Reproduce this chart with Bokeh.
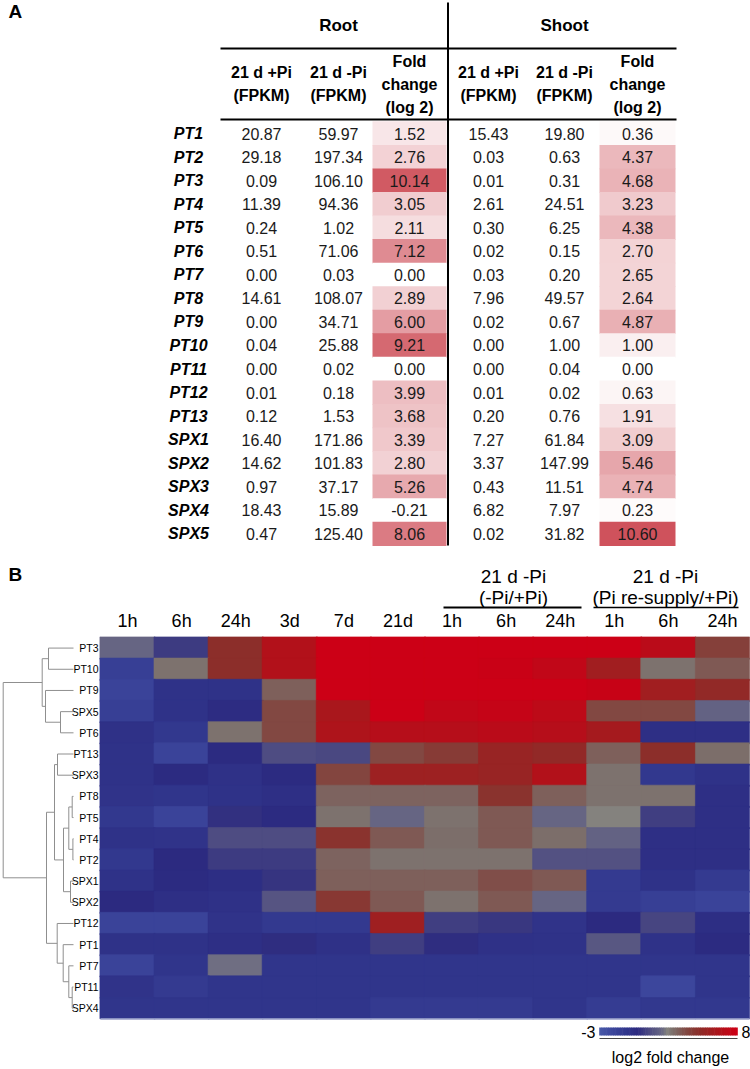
import numpy as np
from bokeh.plotting import figure
from bokeh.models import Range1d
from bokeh.core.properties import value
from bokeh.embed import file_html
from bokeh.resources import INLINE

# ---------------- Panel A data ----------------
genes_a = ["PT1", "PT2", "PT3", "PT4", "PT5", "PT6", "PT7", "PT8", "PT9", "PT10",
           "PT11", "PT12", "PT13", "SPX1", "SPX2", "SPX3", "SPX4", "SPX5"]
root_plus = [20.87, 29.18, 0.09, 11.39, 0.24, 0.51, 0.00, 14.61, 0.00, 0.04,
             0.00, 0.01, 0.12, 16.40, 14.62, 0.97, 18.43, 0.47]
root_minus = [59.97, 197.34, 106.10, 94.36, 1.02, 71.06, 0.03, 108.07, 34.71, 25.88,
              0.02, 0.18, 1.53, 171.86, 101.83, 37.17, 15.89, 125.40]
root_fc = [1.52, 2.76, 10.14, 3.05, 2.11, 7.12, 0.00, 2.89, 6.00, 9.21,
           0.00, 3.99, 3.68, 3.39, 2.80, 5.26, -0.21, 8.06]
shoot_plus = [15.43, 0.03, 0.01, 2.61, 0.30, 0.02, 0.03, 7.96, 0.02, 0.00,
              0.00, 0.01, 0.20, 7.27, 3.37, 0.43, 6.82, 0.02]
shoot_minus = [19.80, 0.63, 0.31, 24.51, 6.25, 0.15, 0.20, 49.57, 0.67, 1.00,
               0.04, 0.02, 0.76, 61.84, 147.99, 11.51, 7.97, 31.82]
shoot_fc = [0.36, 4.37, 4.68, 3.23, 4.38, 2.70, 2.65, 2.64, 4.87, 1.00,
            0.00, 0.63, 1.91, 3.09, 5.46, 4.74, 0.23, 10.60]

# ---------------- Panel B data ----------------
genes_b = ["PT3", "PT10", "PT9", "SPX5", "PT6", "PT13", "SPX3", "PT8", "PT5", "PT4",
           "PT2", "SPX1", "SPX2", "PT12", "PT1", "PT7", "PT11", "SPX4"]
time_labels = ["1h", "6h", "24h", "3d", "7d", "21d", "1h", "6h", "24h", "1h", "6h", "24h"]
heat = [
    [1.9, 0.5, 5.0, 6.8, 8.0, 8.0, 8.0, 8.0, 8.0, 8.0, 7.2, 4.3],    # PT3
    [-1.5, 2.8, 5.0, 6.8, 8.0, 8.0, 8.0, 7.9, 7.5, 6.0, 2.8, 3.5],   # PT10
    [-1.8, -0.6, -0.6, 3.3, 8.0, 8.0, 8.0, 8.0, 8.0, 7.8, 6.0, 5.3], # PT9
    [-1.5, -0.6, -0.2, 4.0, 6.4, 8.0, 7.5, 7.7, 7.3, 4.0, 4.0, 1.8], # SPX5
    [-0.5, -1.0, 2.8, 4.0, 6.6, 7.0, 7.0, 7.2, 7.0, 6.2, -0.4, -0.4],# PT6
    [-0.6, -1.8, -0.1, 1.0, 0.9, 4.0, 4.5, 5.6, 5.3, 3.3, 5.0, 2.9], # PT13
    [-0.6, -0.1, -0.5, -0.1, 4.1, 5.8, 5.8, 5.6, 6.8, 2.8, -1.0, -0.6], # SPX3
    [-0.7, -0.8, -0.6, -0.4, 3.2, 3.2, 3.2, 4.8, 3.3, 2.8, 2.8, -0.4],  # PT8
    [-1.0, -1.8, 0.2, -0.1, 2.8, 1.9, 2.8, 3.5, 1.9, 2.4, 0.6, -0.4],   # PT5
    [-0.6, -0.7, 1.0, 1.0, 4.8, 3.5, 2.9, 3.5, 2.9, 1.8, -0.4, -0.4],   # PT4
    [-1.0, 0.0, 0.5, 0.5, 3.2, 2.8, 2.8, 2.8, 1.2, 1.2, -0.4, -0.4],    # PT2
    [-0.6, -0.1, -0.3, 0.3, 3.3, 3.3, 3.3, 3.8, 3.5, -1.2, -0.6, -1.2], # SPX1
    [0.0, -0.4, -0.5, 1.3, 4.6, 3.5, 2.8, 3.5, 1.9, -1.2, -1.5, -1.8],  # SPX2
    [-1.8, -1.8, -0.7, -1.1, -1.1, 5.9, 0.6, 0.4, -0.7, 0.0, 0.8, -0.3],# PT12
    [-0.6, -0.6, -0.4, 0.1, -0.5, 0.6, 0.1, -0.5, -0.6, 1.4, -0.6, -0.1],# PT1
    [-1.8, -0.8, 2.1, -0.8, -0.8, -0.8, -0.8, -0.8, -0.8, -0.8, -0.8, -0.8], # PT7
    [-0.7, -1.2, -0.8, -0.8, -0.8, -0.8, -0.8, -0.8, -0.8, -0.8, -2.0, -0.8], # PT11
    [-0.8, -0.8, -0.8, -0.8, -0.8, -1.2, -1.2, -1.2, -0.8, -1.3, -1.0, -1.0], # SPX4
]
# dendrogram: (merge distance, left, right)
tree = (70.3,
        (31.3, (25.0, "PT3", "PT10"), (28.0, "PT9", (13.0, "SPX5", "PT6"))),
        (27.0,
         (19.0, (16.0, "PT13", "SPX3"),
          (10.0, (4.7, (1.3, "PT8", "PT5"), (0.6, "PT4", "PT2")), (3.0, "SPX1", "SPX2"))),
         (16.3, "PT12", (10.3, "PT1", (4.7, "PT7", (1.3, "PT11", "SPX4"))))))
cmap_vals = [-3, -2, -1, 0, 1, 2, 2.4, 2.9, 4, 5, 6.5, 8]
cmap_r = [72, 60, 50, 44, 78, 105, 132, 124, 130, 140, 172, 204]
cmap_g = [88, 70, 56, 42, 76, 104, 130, 110, 72, 46, 22, 0]
cmap_b = [168, 156, 142, 128, 130, 132, 126, 106, 66, 42, 28, 22]


def heat_color(v):
    r = np.interp(v, cmap_vals, cmap_r)
    g = np.interp(v, cmap_vals, cmap_g)
    b = np.interp(v, cmap_vals, cmap_b)
    return "#%02x%02x%02x" % (int(r), int(g), int(b))


def fc_color(v, vmax=10.6):
    t = min(max(v / vmax, 0.0), 1.0)
    r = 255 + t * (207 - 255)
    g = 255 + t * (82 - 255)
    b = 255 + t * (92 - 255)
    return "#%02x%02x%02x" % (int(round(r)), int(round(g)), int(round(b)))


SANS = value("Liberation Sans, Arial, sans-serif")

p = figure(width=750, height=1069, x_range=Range1d(0, 750), y_range=Range1d(1069, 0),
           output_backend="svg", toolbar_location=None, min_border=0,
           x_axis_location=None, y_axis_location=None)
p.outline_line_color = None
p.xgrid.visible = False
p.ygrid.visible = False
p.background_fill_color = "white"
p.border_fill_color = "white"

# ================= Panel A =================
row0, rowh = 133.0, 23.55
ys_a = [row0 + i * rowh for i in range(len(genes_a))]
col_x = [261, 338, 409, 488, 564, 637]
fc_cols = [(409, 74, root_fc), (637, 76, shoot_fc)]
for cx, w, vals in fc_cols:
    p.rect(x=[cx] * len(vals), y=ys_a, width=w, height=rowh + 0.8,
           fill_color=[fc_color(v) for v in vals], line_color=None)

cols = [root_plus, root_minus, root_fc, shoot_plus, shoot_minus, shoot_fc]
for cx, vals in zip(col_x, cols):
    p.text(x=[cx] * len(vals), y=ys_a, text=["%.2f" % v for v in vals],
           text_font=SANS, text_font_size="16px", text_align="center",
           text_baseline="middle", text_color="#1a1a1a")
p.text(x=[188] * len(genes_a), y=ys_a, text=genes_a, text_font=SANS,
       text_font_size="16px", text_font_style="bold italic", text_align="center",
       text_baseline="middle", text_color="black")

# headers
p.text(x=[338, 564], y=[25, 25], text=["Root", "Shoot"], text_font=SANS,
       text_font_size="17px", text_font_style="bold", text_align="center",
       text_baseline="middle", text_color="black")
hx = [261, 338, 488, 564]
p.text(x=hx, y=[72] * 4, text=["21 d +Pi", "21 d -Pi", "21 d +Pi", "21 d -Pi"],
       text_font=SANS, text_font_size="16px", text_font_style="bold",
       text_align="center", text_baseline="middle", text_color="black")
p.text(x=hx, y=[95] * 4, text=["(FPKM)"] * 4,
       text_font=SANS, text_font_size="16px", text_font_style="bold",
       text_align="center", text_baseline="middle", text_color="black")
for cx in (409, 637):
    p.text(x=[cx] * 3, y=[61, 84, 107], text=["Fold", "change", "(log 2)"],
           text_font=SANS, text_font_size="16px", text_font_style="bold",
           text_align="center", text_baseline="middle", text_color="black")
p.segment(x0=[220, 220, 447.5], y0=[48, 119, 2], x1=[676, 676, 447.5], y1=[48, 119, 545],
          line_color="black", line_width=2)
p.text(x=[8], y=[11], text=["A"], text_font=SANS, text_font_size="19px",
       text_font_style="bold", text_align="left", text_baseline="middle", text_color="black")

# ================= Panel B =================
hx0, hx1 = 100.0, 749.0
hy0, hy1 = 637.0, 1018.3
ncol, nrow = len(time_labels), len(genes_b)
cw = (hx1 - hx0) / ncol
rh = (hy1 - hy0) / nrow
cx_b, cy_b, cc_b, cwid, chei = [], [], [], [], []
for i, row in enumerate(heat):
    for j, v in enumerate(row):
        cx_b.append(hx0 + (j + 0.5) * cw)
        cy_b.append(hy0 + (i + 0.5) * rh)
        cc_b.append(heat_color(v))
        cwid.append(cw + (1.2 if j < ncol - 1 else 0.0))
        chei.append(rh + (1.2 if i < nrow - 1 else 0.0))
p.rect(x=cx_b, y=cy_b, width=cwid, height=chei, fill_color=cc_b, line_color=cc_b,
       line_width=0.6)
p.segment(x0=[hx0], y0=[hy1], x1=[hx1], y1=[hy1], line_color="#8890c0", line_width=1.5)

col_centers = [hx0 + (j + 0.5) * cw for j in range(ncol)]
p.text(x=col_centers, y=[620] * ncol, text=time_labels, text_font=SANS,
       text_font_size="18px", text_align="center", text_baseline="middle", text_color="black")
p.text(x=[513, 513, 665, 665], y=[576, 597, 576, 597],
       text=["21 d -Pi", "(-Pi/+Pi)", "21 d -Pi", "(Pi re-supply/+Pi)"],
       text_font=SANS, text_font_size="19px", text_align="center",
       text_baseline="middle", text_color="black")
p.segment(x0=[443, 593], y0=[607, 607], x1=[581, 738], y1=[607, 607],
          line_color="black", line_width=[2, 1.5])
p.text(x=[8], y=[574], text=["B"], text_font=SANS, text_font_size="19px",
       text_font_style="bold", text_align="left", text_baseline="middle", text_color="black")

# row labels
row_y = {g: hy0 + (i + 0.5) * rh for i, g in enumerate(genes_b)}
p.text(x=[98] * nrow, y=[row_y[g] for g in genes_b], text=genes_b, text_font=SANS,
       text_font_size="10.5px", text_align="right", text_baseline="middle", text_color="black")

# dendrogram
leaf_x = 73.0
sx0, sy0, sx1, sy1 = [], [], [], []


def draw(node):
    if isinstance(node, str):
        return leaf_x, row_y[node]
    d, a, b = node
    xa, ya = draw(a)
    xb, yb = draw(b)
    xm = leaf_x - d
    sx0.extend([xm, xm, xm]); sy0.extend([ya, ya, yb])
    sx1.extend([xm, xa, xb]); sy1.extend([yb, ya, yb])
    return xm, (ya + yb) / 2


draw(tree)
p.segment(x0=sx0, y0=sy0, x1=sx1, y1=sy1, line_color="#8f8f8f", line_width=1)

# colour bar
bar_x0, bar_x1 = 599.0, 737.0
nb = 60
bv = np.linspace(-3, 8, nb)
bw = (bar_x1 - bar_x0) / nb
p.rect(x=[bar_x0 + (k + 0.5) * bw for k in range(nb)], y=[1031] * nb, width=bw + 0.6,
       height=8, fill_color=[heat_color(v) for v in bv], line_color=None)
p.segment(x0=[bar_x0], y0=[1038], x1=[bar_x1], y1=[1038], line_color="#444444", line_width=1)
p.text(x=[595, 741], y=[1031, 1031], text=["-3", "8"], text_font=SANS, text_font_size="16px",
       text_align=["right", "left"], text_baseline="middle", text_color="black")
p.text(x=[670], y=[1057], text=["log2 fold change"], text_font=SANS, text_font_size="16px",
       text_align="center", text_baseline="middle", text_color="black")

open("out.html", "w").write(file_html(p, INLINE))
